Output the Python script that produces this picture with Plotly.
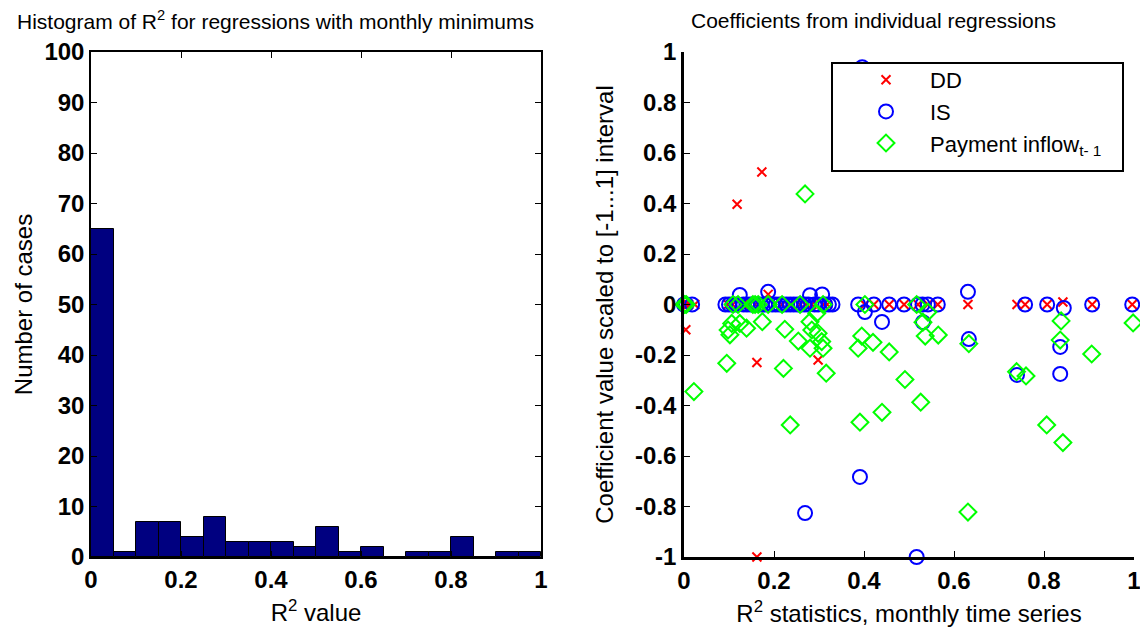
import plotly.graph_objects as go

# ---------------- data ----------------
# histogram of R^2 (bin centres, counts)
r2_bin_centers = [0.025, 0.075, 0.125, 0.175, 0.225, 0.275, 0.325, 0.375, 0.425, 0.475,
                  0.525, 0.575, 0.625, 0.675, 0.725, 0.775, 0.825, 0.875, 0.925, 0.975]
r2_counts = [65, 1, 7, 7, 4, 8, 3, 3, 3, 2, 6, 1, 2, 0, 1, 1, 4, 0, 1, 1]
r2_bin_width = 0.05

# scatter: DD coefficients
dd_x = [0.000, 0.003, 0.006, 0.010, 0.024, 0.004, 0.098, 0.108, 0.118, 0.130, 0.145, 0.158,
        0.162, 0.162, 0.173, 0.187, 0.200, 0.218, 0.235, 0.258, 0.270, 0.284, 0.298, 0.309,
        0.318, 0.402, 0.422, 0.456, 0.489, 0.520, 0.542, 0.564, 0.631, 0.740, 0.758, 0.807,
        0.842, 0.907, 0.996]
dd_y = [0.0, 0.0, 0.0, 0.0, 0.0, -0.10, 0.0, 0.0, 0.397, 0.0, 0.0, 0.0,
        -0.23, -1.0, 0.525, 0.04, 0.0, 0.0, 0.0, 0.0, 0.0, 0.0, -0.22, 0.0,
        0.0, 0.0, 0.0, 0.0, 0.0, 0.0, 0.0, 0.0, 0.0, 0.0, 0.0, 0.0,
        0.01, 0.0, 0.0]

# scatter: IS coefficients
is_x = [0.000, 0.005, 0.018, 0.092, 0.100, 0.108, 0.116, 0.132, 0.140, 0.148, 0.156, 0.164,
        0.172, 0.180, 0.196, 0.204, 0.212, 0.220, 0.228, 0.236, 0.244, 0.252, 0.260, 0.268,
        0.276, 0.290, 0.298, 0.314, 0.322, 0.330, 0.124, 0.187, 0.280, 0.307, 0.269, 0.391,
        0.396, 0.387, 0.402, 0.422, 0.440, 0.456, 0.489, 0.520, 0.530, 0.542, 0.531, 0.564,
        0.517, 0.631, 0.633, 0.740, 0.758, 0.807, 0.844, 0.836, 0.836, 0.907, 0.996]
is_y = [0.0, 0.0, 0.0, 0.0, 0.0, 0.0, 0.0, 0.0, 0.0, 0.0, 0.0, 0.0,
        0.0, 0.0, 0.0, 0.0, 0.0, 0.0, 0.0, 0.0, 0.0, 0.0, 0.0, 0.0,
        0.0, 0.0, 0.0, 0.0, 0.0, 0.0, 0.038, 0.05, 0.037, 0.04, -0.826, -0.683,
        0.94, 0.0, -0.03, 0.0, -0.069, 0.0, 0.0, 0.0, 0.0, 0.0, -0.07, 0.0,
        -1.0, 0.05, -0.137, -0.279, 0.0, 0.0, -0.014, -0.168, -0.275, 0.0, 0.0]

# scatter: Payment inflow (t-1) coefficients
pay_x = [0.000, 0.002, 0.005, 0.022, 0.095, 0.098, 0.102, 0.106, 0.109, 0.120, 0.124, 0.139,
         0.153, 0.158, 0.165, 0.174, 0.187, 0.218, 0.221, 0.224, 0.236, 0.254, 0.258, 0.269,
         0.280, 0.280, 0.284, 0.295, 0.298, 0.306, 0.309, 0.309, 0.316, 0.387, 0.391, 0.395,
         0.402, 0.420, 0.440, 0.456, 0.491, 0.517, 0.526, 0.531, 0.536, 0.542, 0.565, 0.631,
         0.633, 0.739, 0.760, 0.806, 0.836, 0.838, 0.842, 0.906, 0.998]
pay_y = [0.0, 0.0, 0.0, -0.345, -0.233, -0.101, -0.12, -0.075, 0.0, 0.0, -0.075, -0.094,
         0.0, 0.0, 0.0, -0.068, 0.0, 0.0, -0.253, -0.098, -0.477, -0.145, 0.0, 0.438,
         -0.068, -0.173, -0.101, -0.035, -0.114, -0.147, -0.173, 0.0, -0.272, -0.173, -0.466, -0.125,
         0.0, -0.15, -0.427, -0.188, -0.297, 0.0, -0.387, -0.07, -0.125, -0.03, -0.121, -0.822,
         -0.155, -0.266, -0.283, -0.477, -0.141, -0.065, -0.547, -0.196, -0.073]

hist_xticks = [0, 0.2, 0.4, 0.6, 0.8, 1]
hist_xticktext = ["0", "0.2", "0.4", "0.6", "0.8", "1"]
hist_yticks = [0, 10, 20, 30, 40, 50, 60, 70, 80, 90, 100]
coef_yticks = [-1, -0.8, -0.6, -0.4, -0.2, 0, 0.2, 0.4, 0.6, 0.8, 1]
coef_yticktext = ["-1", "-0.8", "-0.6", "-0.4", "-0.2", "0", "0.2", "0.4", "0.6", "0.8", "1"]

# ---------------- figure ----------------
# the page body margin is removed below, so the figure fills the window
W, H = 1140, 630


def fx(p):
    return p / W


def fy(p):
    return 1 - p / H


FONT = "Liberation Sans, Arial, sans-serif"
tickfont = dict(family=FONT, size=24, color="black", weight="bold")
titlefont = dict(family=FONT, size=24, color="black")

fig = go.Figure()

fig.add_trace(go.Bar(
    x=r2_bin_centers, y=r2_counts, width=r2_bin_width,
    marker=dict(color="#000080", line=dict(color="black", width=1)),
    xaxis="x", yaxis="y", showlegend=False,
))

fig.add_trace(go.Scatter(
    x=dd_x, y=dd_y, mode="markers", name="DD",
    marker=dict(symbol="x-thin-open", size=9, color="#FF0000",
                line=dict(color="#FF0000", width=2)),
    xaxis="x2", yaxis="y2", cliponaxis=False, legendgroup="a",
))
fig.add_trace(go.Scatter(
    x=is_x, y=is_y, mode="markers", name="IS",
    marker=dict(symbol="circle-open", size=14, color="#0000FF",
                line=dict(color="#0000FF", width=2)),
    xaxis="x2", yaxis="y2", cliponaxis=False, legendgroup="b",
))
fig.add_trace(go.Scatter(
    x=pay_x, y=pay_y, mode="markers", name="Payment inflow<sub>t- 1</sub>",
    marker=dict(symbol="diamond-open", size=13, color="#00FF00",
                line=dict(color="#00FF00", width=2)),
    xaxis="x2", yaxis="y2", cliponaxis=False, legendgroup="c",
))

ydom = [fy(557), fy(52)]

fig.update_layout(
    width=W, height=H,
    margin=dict(l=0, r=0, t=0, b=0),
    paper_bgcolor="white", plot_bgcolor="white",
    font=dict(family=FONT, color="black"),
    bargap=0,
    xaxis=dict(domain=[fx(91), fx(541)], range=[0, 1], tickvals=hist_xticks,
               ticktext=hist_xticktext, ticks="inside", ticklen=6, tickcolor="black",
               showline=True, linecolor="black", linewidth=1.5, mirror="ticks",
               showgrid=False, zeroline=False, tickfont=tickfont,
               ticklabeloverflow="allow",
               title=dict(text="R<sup>2</sup> value", font=titlefont, standoff=13),
               automargin=False),
    yaxis=dict(domain=ydom, range=[0, 100], tickvals=hist_yticks,
               ticks="inside", ticklen=6, tickcolor="black",
               showline=True, linecolor="black", linewidth=1.5, mirror="ticks",
               showgrid=False, zeroline=False, tickfont=tickfont,
               ticklabeloverflow="allow",
               title=dict(text="Number of cases", font=titlefont, standoff=5),
               automargin=False),
    xaxis2=dict(domain=[fx(684), fx(1134)], range=[0, 1], tickvals=hist_xticks,
                ticktext=hist_xticktext, ticks="inside", ticklen=6, tickcolor="black",
                showline=True, linecolor="black", linewidth=2.5, mirror=False,
                showgrid=False, zeroline=False, tickfont=tickfont, anchor="y2",
                ticklabeloverflow="allow",
                title=dict(text="R<sup>2</sup> statistics, monthly time series",
                           font=titlefont, standoff=13),
                automargin=False),
    yaxis2=dict(domain=ydom, range=[-1, 1], tickvals=coef_yticks, ticktext=coef_yticktext,
                ticks="inside", ticklen=6, tickcolor="black",
                showline=True, linecolor="black", linewidth=2.5, mirror=False,
                showgrid=False, zeroline=False, tickfont=tickfont, anchor="x2",
                ticklabeloverflow="allow",
                title=dict(text="Coefficient value scaled to [-1...1] interval",
                           font=titlefont, standoff=15),
                automargin=False),
    legend=dict(x=fx(842), y=fy(59), xanchor="left", yanchor="top",
                bgcolor="rgba(0,0,0,0)", borderwidth=0, itemwidth=78,
                font=dict(family=FONT, size=22, color="black"),
                traceorder="grouped", tracegroupgap=0),
    shapes=[dict(type="rect", xref="paper", yref="paper",
                 x0=fx(832), x1=fx(1123), y0=fy(171), y1=fy(63),
                 line=dict(color="black", width=2), fillcolor="white", layer="above")],
    annotations=[
        dict(text="Histogram of R<sup>2</sup> for regressions with monthly minimums",
             x=fx(275), y=fy(20), xref="paper", yref="paper",
             xanchor="center", yanchor="middle", showarrow=False,
             font=dict(family=FONT, size=21, color="black")),
        dict(text="Coefficients from individual regressions",
             x=fx(873), y=fy(20), xref="paper", yref="paper",
             xanchor="center", yanchor="middle", showarrow=False,
             font=dict(family=FONT, size=21, color="black")),
    ],
)

fig.write_html(
    "out.html",
    config={"displayModeBar": False},
    post_script="document.body.style.margin='0px';document.body.style.overflow='hidden';",
)
